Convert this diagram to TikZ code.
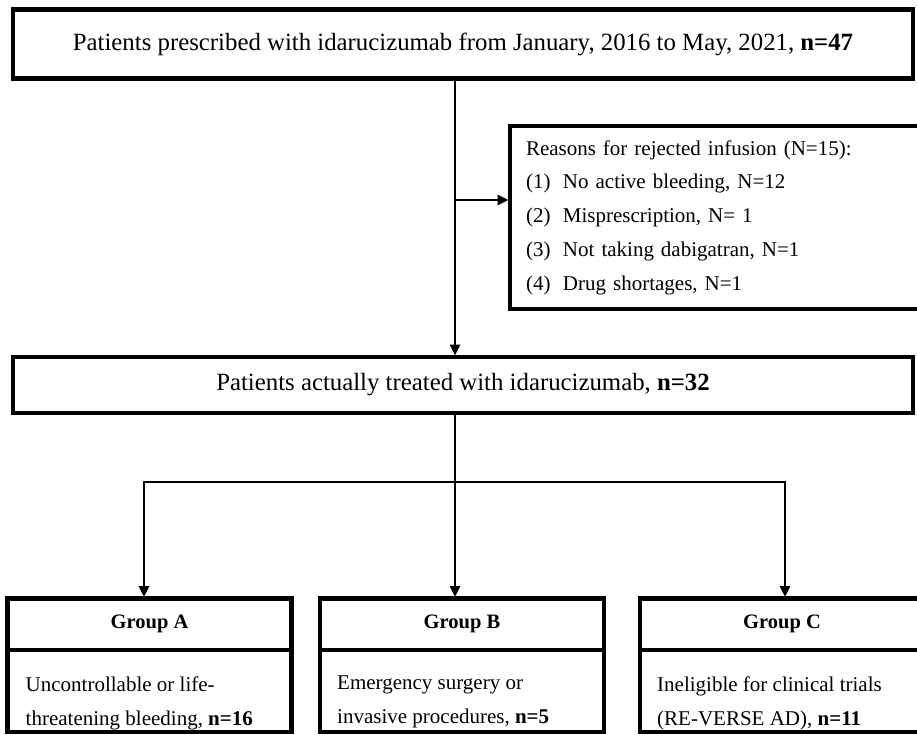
\documentclass[tikz,border=0pt]{standalone}
\usepackage{fontspec}
\setmainfont{Liberation Serif}
\usetikzlibrary{positioning,arrows.meta}
\definecolor{fcInk}{RGB}{0,0,0}
\definecolor{fcPaper}{RGB}{255,255,255}
\tikzset{
    base/.style={align=center, text=fcInk},
    frame/.style={base, rectangle, draw=fcInk, line width=4.5pt, fill=fcPaper,
                  inner sep=0pt, outer sep=0pt},
    bigbox/.style={frame, minimum width=900, font=\fontsize{24.8}{30}\selectfont},
    listbox/.style={frame, align=left, text width=408, inner xsep=16pt,
                    font=\fontsize{21}{33.7}\selectfont},
    headbox/.style={frame, minimum width=284, minimum height=51.5,
                    font=\fontsize{20.5}{24}\selectfont\bfseries},
    bodybox/.style={frame, minimum width=284, minimum height=82},
    note/.style={base, align=left, inner sep=0pt, anchor=north west,
                 font=\fontsize{21}{34}\selectfont},
    link/.style={line width=2.8pt, color=fcInk},
    flow/.style={link, -{Triangle[length=11pt,width=10pt]}, shorten >=1.5pt}
}
\newcommand{\itemno}[1]{\makebox[37pt][l]{(#1)}}

\begin{document}
\begin{tikzpicture}[x=1pt, y=-1pt]
  \path[use as bounding box, fill=fcPaper] (0,0) rectangle (917,734);

  % Main boxes
  \node[bigbox, minimum height=69] (prescribed) at (463,44)
    {Patients prescribed with idarucizumab from January, 2016 to May, 2021, \textbf{n=47}};
  \node[listbox, minimum height=183] (reasons) at (730,217.5) {%
    Reasons for rejected infusion (N=15):\\
    \itemno{1}No active bleeding, N=12\\
    \itemno{2}Misprescription, N= 1\\
    \itemno{3}Not taking dabigatran, N=1\\
    \itemno{4}Drug shortages, N=1};
  \node[bigbox, minimum height=56] (treated) at (463,385)
    {Patients actually treated with idarucizumab, \textbf{n=32}};

  % Groups
  \node[headbox] (gAhead) at (149.5,624.25) {Group A};
  \node[headbox, right=28.5pt of gAhead] (gBhead) {Group B};
  \node[headbox, right=36pt of gBhead] (gChead) {Group C};
  \node[bodybox, below=0pt of gAhead] (gAbody) {};
  \node[bodybox, below=0pt of gBhead] (gBbody) {};
  \node[bodybox, below=0pt of gChead] (gCbody) {};
  \node[note, below right=26pt and 18pt of gAbody.north west] (gAtext)
    {Uncontrollable or life-\\threatening bleeding, \textbf{n=16}};
  \node[note, below right=26pt and 17pt of gBbody.north west] (gBtext)
    {Emergency surgery or\\invasive procedures, \textbf{n=5}};
  \node[note, below right=26pt and 17pt of gCbody.north west] (gCtext)
    {Ineligible for clinical trials\\(RE-VERSE AD), \textbf{n=11}};

  % Connectors
  \coordinate (spine) at (455,0);
  \coordinate (fork) at (455,200);
  \coordinate (hub) at (455,482);
  \coordinate (barA) at (144,482);
  \coordinate (barC) at (785,482);
  \draw[flow] (prescribed.south -| spine) -- (treated.north -| spine);
  \draw[flow] (fork) -- (fork -| reasons.west);
  \draw[flow] (treated.south -| spine) -- (hub |- gBhead.north);
  \draw[flow] (hub) -- (barA) -- (barA |- gAhead.north);
  \draw[flow] (hub) -- (barC) -- (barC |- gChead.north);
\end{tikzpicture}
\end{document}
